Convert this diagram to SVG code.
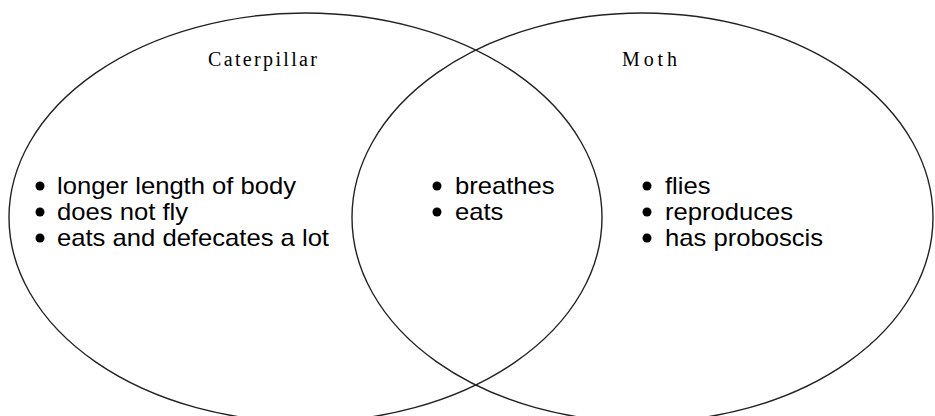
<svg xmlns="http://www.w3.org/2000/svg" width="935" height="416" viewBox="0 0 935 416">
<style>
.ring{fill:none;stroke:#222;stroke-width:1.4}
.title{font-family:"Liberation Serif","Times New Roman",serif;font-size:20px;fill:#000}
.item{font-family:"Liberation Sans",Arial,sans-serif;font-size:24px;fill:#000}
.dot{fill:#000}
</style>
<rect width="935" height="416" fill="#fff"/>
<g id="caterpillar">
<ellipse class="ring" cx="305.5" cy="217.5" rx="296.5" ry="204.5"/>
<text class="title" x="208" y="66" textLength="109" lengthAdjust="spacing">Caterpillar</text>
<circle class="dot" cx="40" cy="186" r="4.5"/><circle class="dot" cx="40" cy="212" r="4.5"/><circle class="dot" cx="40" cy="238" r="4.5"/>
<text class="item" x="57" y="194" textLength="239" lengthAdjust="spacingAndGlyphs">longer length of body</text>
<text class="item" x="57" y="220" textLength="131" lengthAdjust="spacingAndGlyphs">does not fly</text>
<text class="item" x="57" y="246" textLength="272" lengthAdjust="spacingAndGlyphs">eats and defecates a lot</text>
</g>
<g id="moth">
<ellipse class="ring" cx="642.5" cy="217.5" rx="290.5" ry="204.5"/>
<text class="title" x="622" y="66" textLength="55" lengthAdjust="spacing">Moth</text>
<circle class="dot" cx="647" cy="186" r="4.5"/><circle class="dot" cx="647" cy="212" r="4.5"/><circle class="dot" cx="647" cy="238" r="4.5"/>
<text class="item" x="665" y="194" textLength="45.5" lengthAdjust="spacingAndGlyphs">flies</text>
<text class="item" x="665" y="220" textLength="128" lengthAdjust="spacingAndGlyphs">reproduces</text>
<text class="item" x="665" y="246" textLength="158" lengthAdjust="spacingAndGlyphs">has proboscis</text>
</g>
<g id="both">
<circle class="dot" cx="437" cy="186" r="4.5"/><circle class="dot" cx="437" cy="212" r="4.5"/>
<text class="item" x="455" y="194" textLength="99.6" lengthAdjust="spacingAndGlyphs">breathes</text>
<text class="item" x="455" y="220" textLength="48.4" lengthAdjust="spacingAndGlyphs">eats</text>
</g>
<g id="connectors"></g>
</svg>
